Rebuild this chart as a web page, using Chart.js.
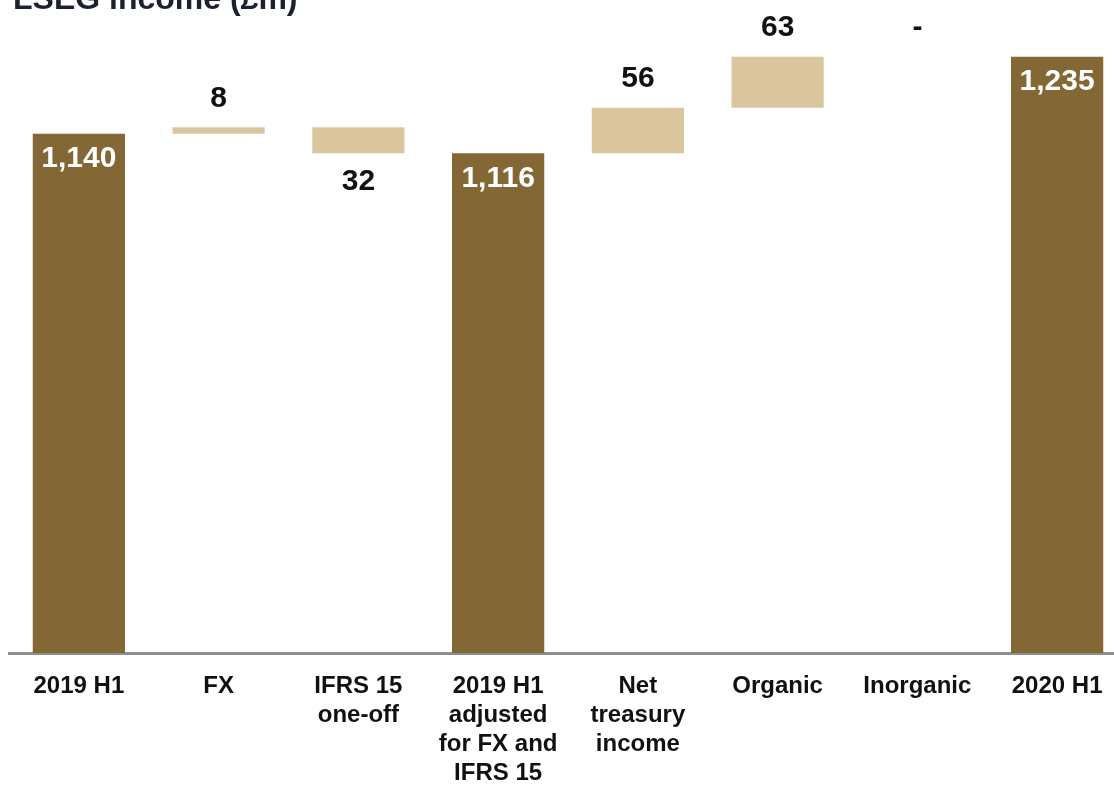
<!DOCTYPE html>
<html>
<head>
<meta charset="utf-8">
<script src="https://cdn.jsdelivr.net/npm/chart.js@4/dist/chart.umd.min.js"></script>
<style>
  html, body { margin: 0; padding: 0; background: #fff; overflow: hidden; }
  #wrap { position: relative; width: 1128px; height: 788px; }
  #title {
    position: absolute; left: 13px; top: -18px;
    font: bold 32px "Liberation Sans", Arial, sans-serif;
    line-height: 32px; color: #1b2130; white-space: nowrap;
  }
</style>
</head>
<body>
<div id="wrap">
  <canvas id="chart" width="1128" height="788"></canvas>
  <div id="title">LSEG income (£m)</div>
</div>
<script>
// bridge categories, multi-line labels as arrays
const categories = [
  '2019 H1',
  'FX',
  ['IFRS 15', 'one-off'],
  ['2019 H1', 'adjusted', 'for FX and', 'IFRS 15'],
  ['Net', 'treasury', 'income'],
  'Organic',
  'Inorganic',
  '2020 H1'
];
// totals are absolute, the rest are movements
const values = [1140, 8, -32, 1116, 56, 63, 0, 1235];
const isTotal = [true, false, false, true, false, false, false, true];
const valueText = ['1,140', '8', '32', '1,116', '56', '63', '-', '1,235'];

const yMin = 500;
const yMax = 1300;
const DARK = '#836734';
const LIGHT = '#d9c69e';

// build floating ranges from running total
let running = 0;
const ranges = values.map((v, i) => {
  if (isTotal[i]) {
    running = v;
    return [yMin, v];
  }
  const start = running;
  running += v;
  return [start, running];
});

const barLabels = {
  id: 'barLabels',
  afterDatasetsDraw(chart) {
    const ctx = chart.ctx;
    const meta = chart.getDatasetMeta(0);
    const y = chart.scales.y;
    ctx.save();
    ctx.font = 'bold 30px "Liberation Sans", Arial, sans-serif';
    ctx.textAlign = 'center';
    ctx.textBaseline = 'middle';
    meta.data.forEach((bar, i) => {
      const r = ranges[i];
      const top = y.getPixelForValue(Math.max(r[0], r[1]));
      const bottom = y.getPixelForValue(Math.min(r[0], r[1]));
      if (isTotal[i]) {
        ctx.fillStyle = '#ffffff';
        ctx.fillText(valueText[i], bar.x, top + 25);
      } else if (values[i] < 0) {
        ctx.fillStyle = '#111111';
        ctx.fillText(valueText[i], bar.x, bottom + 28);
      } else {
        ctx.fillStyle = '#111111';
        ctx.fillText(valueText[i], bar.x, top - 29);
      }
    });
    ctx.restore();
  }
};

new Chart(document.getElementById('chart'), {
  type: 'bar',
  data: {
    labels: categories,
    datasets: [{
      data: ranges,
      backgroundColor: isTotal.map(t => t ? DARK : LIGHT),
      borderWidth: 0,
      categoryPercentage: 1,
      barPercentage: 0.66
    }]
  },
  options: {
    responsive: false,
    animation: false,
    layout: { padding: { left: 9, right: 1, top: 4, bottom: 0 } },
    plugins: {
      legend: { display: false },
      tooltip: { enabled: false }
    },
    scales: {
      y: {
        display: false,
        min: yMin,
        max: yMax
      },
      x: {
        grid: { display: false, drawTicks: false },
        border: { display: true, color: '#8e8e8e', width: 3 },
        ticks: {
          color: '#111111',
          padding: 19,
          maxRotation: 0,
          autoSkip: false,
          font: { family: '"Liberation Sans", Arial, sans-serif', size: 24, weight: 'bold', lineHeight: 1.21 }
        },
        afterFit(scale) { scale.height = 135; }
      }
    }
  },
  plugins: [barLabels]
});
</script>
</body>
</html>
